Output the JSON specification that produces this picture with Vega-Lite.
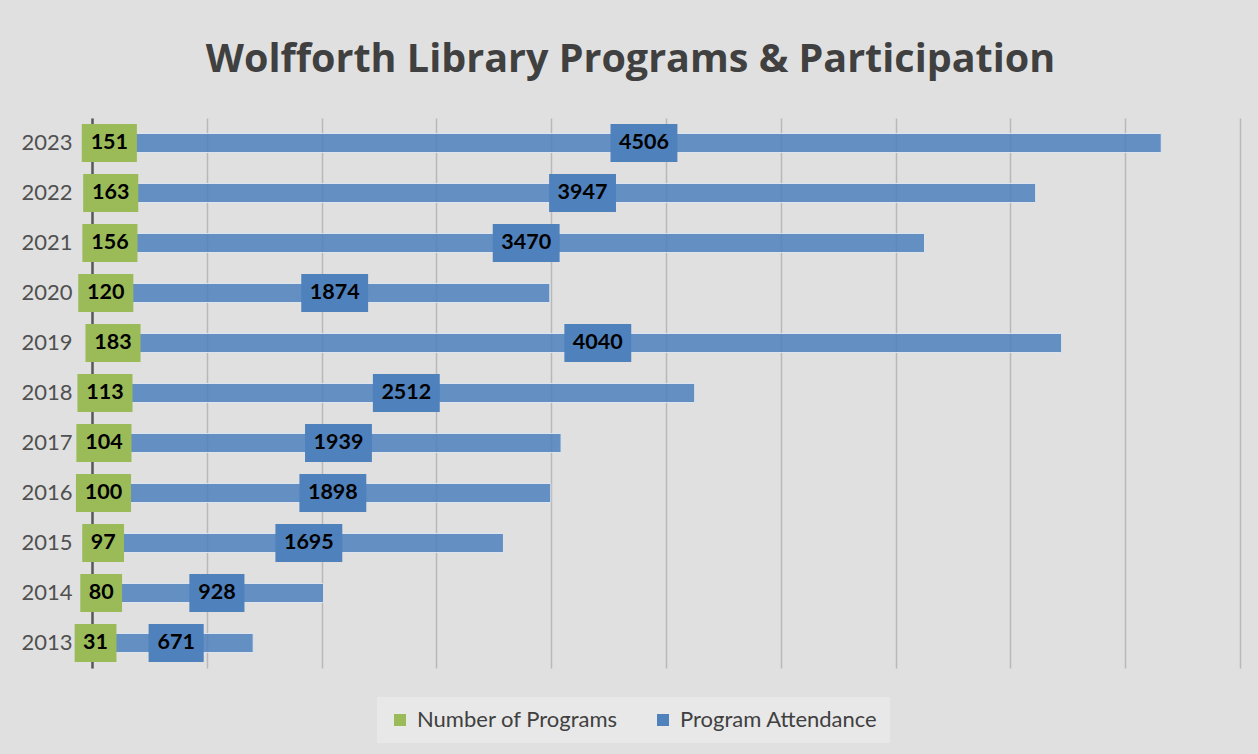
{
  "$schema": "https://vega.github.io/schema/vega-lite/v6.json",
  "width": 1148,
  "height": 550,
  "autosize": {"type": "none"},
  "padding": {"left": 92, "top": 118, "right": 18, "bottom": 86},
  "background": "#e0e0e0",
  "title": {
    "text": "Wolfforth Library Programs & Participation",
    "font": "Open Sans",
    "fontSize": 39.5,
    "fontWeight": "bold",
    "color": "#404040",
    "anchor": "middle",
    "frame": "bounds",
    "offset": 38
  },
  "data": {
    "values": [
      {"year": "2023", "series": "Number of Programs", "value": 151},
      {"year": "2023", "series": "Program Attendance", "value": 4506},
      {"year": "2022", "series": "Number of Programs", "value": 163},
      {"year": "2022", "series": "Program Attendance", "value": 3947},
      {"year": "2021", "series": "Number of Programs", "value": 156},
      {"year": "2021", "series": "Program Attendance", "value": 3470},
      {"year": "2020", "series": "Number of Programs", "value": 120},
      {"year": "2020", "series": "Program Attendance", "value": 1874},
      {"year": "2019", "series": "Number of Programs", "value": 183},
      {"year": "2019", "series": "Program Attendance", "value": 4040},
      {"year": "2018", "series": "Number of Programs", "value": 113},
      {"year": "2018", "series": "Program Attendance", "value": 2512},
      {"year": "2017", "series": "Number of Programs", "value": 104},
      {"year": "2017", "series": "Program Attendance", "value": 1939},
      {"year": "2016", "series": "Number of Programs", "value": 100},
      {"year": "2016", "series": "Program Attendance", "value": 1898},
      {"year": "2015", "series": "Number of Programs", "value": 97},
      {"year": "2015", "series": "Program Attendance", "value": 1695},
      {"year": "2014", "series": "Number of Programs", "value": 80},
      {"year": "2014", "series": "Program Attendance", "value": 928},
      {"year": "2013", "series": "Number of Programs", "value": 31},
      {"year": "2013", "series": "Program Attendance", "value": 671}
    ]
  },
  "transform": [
    {"stack": "value", "groupby": ["year"], "sort": [{"field": "series", "order": "ascending"}], "as": ["x0", "x1"]}
  ],
  "encoding": {
    "y": {
      "field": "year",
      "type": "ordinal",
      "sort": "descending",
      "scale": {"paddingInner": 0.62, "paddingOuter": 0.31},
      "axis": {
        "title": null,
        "ticks": false,
        "grid": false,
        "domainColor": "#595959",
        "domainWidth": 2.5,
        "labelFont": "Lato",
        "labelFontSize": 22,
        "labelColor": "#505050",
        "labelPadding": 20
      }
    },
    "color": {
      "field": "series",
      "type": "nominal",
      "scale": {"domain": ["Number of Programs", "Program Attendance"], "range": ["#9bbb59", "#4f81bd"]},
      "legend": {
        "title": null,
        "orient": "none",
        "legendX": 285,
        "legendY": 579,
        "direction": "horizontal",
        "symbolType": "square",
        "symbolSize": 144,
        "symbolOpacity": 1,
        "symbolStrokeWidth": 0,
        "labelFont": "Lato",
        "labelFontSize": 22,
        "labelColor": "#404040",
        "labelLimit": 0,
        "labelOffset": 6,
        "fillColor": "#e8e8e8",
        "padding": 12,
        "columnPadding": 34
      }
    }
  },
  "layer": [
    {
      "mark": {"type": "bar", "opacity": 0.85, "stroke": "#dce6f2", "strokeWidth": 1},
      "encoding": {
        "x": {
          "field": "x0",
          "type": "quantitative",
          "scale": {"domain": [0, 5000]},
          "axis": {
            "title": null,
            "grid": true,
            "gridColor": "#b8b8b8",
            "gridWidth": 1.5,
            "labels": false,
            "ticks": false,
            "domain": false,
            "tickCount": 10
          }
        },
        "x2": {"field": "x1"}
      }
    },
    {
      "transform": [
        {"fold": ["x0", "x1"], "as": ["k", "pos"]},
        {"aggregate": [{"op": "mean", "field": "pos", "as": "mid"}], "groupby": ["year", "series", "value"]}
      ],
      "layer": [
        {
          "mark": {"type": "point", "filled": true, "opacity": 1, "size": 1444},
          "encoding": {
            "x": {"field": "mid", "type": "quantitative"},
            "shape": {
              "condition": [
                {"test": "datum.value >= 1000", "value": "M-1.76,-1H1.76V1H-1.76Z"},
                {"test": "datum.value < 100", "value": "M-1.1,-1H1.1V1H-1.1Z"}
              ],
              "value": "M-1.45,-1H1.45V1H-1.45Z"
            }
          }
        },
        {
          "mark": {"type": "text", "font": "Lato", "fontWeight": "bold", "fontSize": 21.5},
          "encoding": {
            "x": {"field": "mid", "type": "quantitative"},
            "text": {"field": "value", "type": "quantitative"},
            "color": {"value": "#000000"}
          }
        }
      ]
    }
  ],
  "config": {
    "view": {"stroke": null}
  }
}
